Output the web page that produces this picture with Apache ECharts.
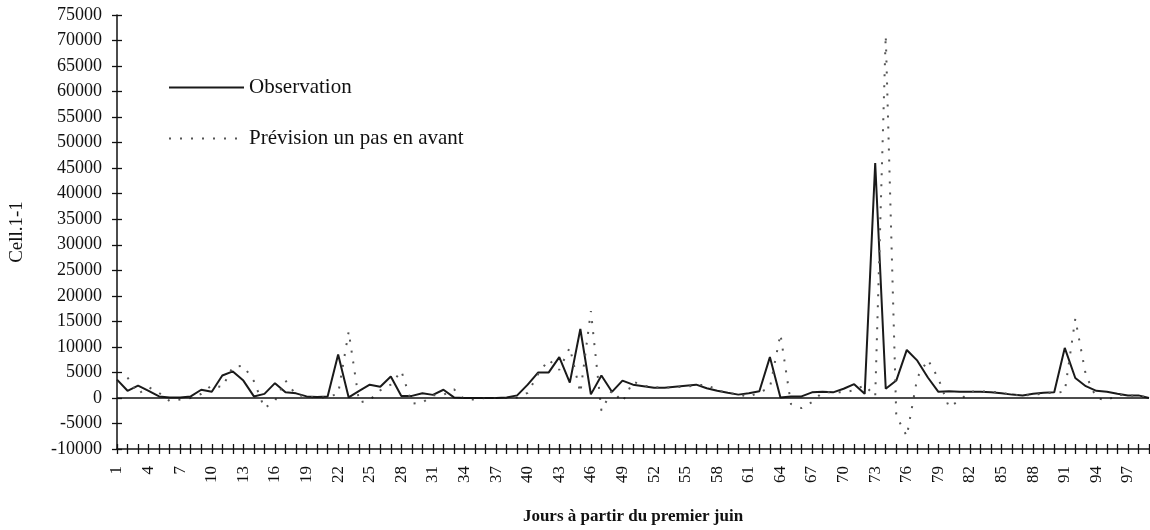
<!DOCTYPE html>
<html>
<head>
<meta charset="utf-8">
<script src="https://cdn.jsdelivr.net/npm/echarts@6/dist/echarts.min.js"></script>
<style>html,body{margin:0;padding:0;background:#fff}#c{width:1150px;height:530px}</style>
</head>
<body>
<div id="c"></div>
<script>
var days = [];
for (var d = 1; d <= 99; d++) days.push(String(d));

var observation = [
  3600, 1400, 2400, 1400, 300, 100, 100, 300, 1600, 1200,
  4400, 5200, 3400, 300, 800, 2900, 1100, 900, 300, 200,
  300, 8500, 100, 1400, 2600, 2200, 4200, 400, 400, 900,
  600, 1600, 100, 0, 0, 0, 0, 100, 500, 2600,
  5000, 5000, 8000, 3000, 13500, 700, 4400, 1200, 3400, 2600,
  2300, 2000, 2000, 2200, 2400, 2600, 1900, 1400, 1000, 650,
  900, 1300, 8000, 100, 300, 300, 1100, 1200, 1100, 1800,
  2700, 800, 46000, 1800, 3400, 9400, 7300, 4000, 1200, 1300,
  1200, 1200, 1200, 1100, 900, 650, 500, 800, 1000, 1100,
  9800, 3900, 2300, 1400, 1200, 800, 500, 500, 0
];

var prevision = [
  null, 4000, 800, 2100, 1000, -600, -300, 0, 800, 2500,
  2100, 6100, 6300, 3300, -2000, -600, 3400, 600, 300, 0,
  200, 800, 13000, -900, -400, 1500, 2600, 5300, -1100, -900,
  500, 600, 1700, -300, -300, 0, 0, 0, 100, 1000,
  4700, 7500, 5500, 9900, 1000, 17000, -2500, 1500, -800, 3200,
  2400, 2100, 2000, 2100, 2200, 2500, 2600, 1500, 1000, 700,
  200, 1100, 2000, 12500, -1200, -2000, -800, 1100, 1100, 1100,
  1500, 2500, 300, 71000, -3500, -7500, 4000, 7500, 3800, -1800,
  -500, 1200, 1300, 1200, 1000, 600, 500, 600, 900, 1000,
  1200, 15500, 4500, 0, -500, 600, 500, 400, 100
];

var FONT = 'Liberation Serif';
var chart = echarts.init(document.getElementById('c'));
chart.setOption({
  animation: false,
  backgroundColor: '#fff',
  grid: { left: 115, right: 1, top: 15, bottom: 72, containLabel: false },
  legend: {
    orient: 'vertical', left: 163, top: 72, itemWidth: 75, itemHeight: 14, itemGap: 30,
    itemStyle: { color: 'rgba(0,0,0,0)', borderWidth: 0, opacity: 0 },
    textStyle: { fontFamily: FONT, fontSize: 21, color: '#111' },
    data: ['Observation', 'Prévision un pas en avant']
  },
  xAxis: [{
    type: 'category', data: days, boundaryGap: false, position: 'bottom',
    name: 'Jours à partir du premier juin', nameLocation: 'middle', nameGap: 59,
    nameTextStyle: { fontFamily: FONT, fontSize: 17, fontWeight: 'bold', color: '#111' },
    axisLine: { onZero: false, lineStyle: { color: '#111', width: 1.5 } },
    axisTick: { show: true, interval: 0, length: 5, lineStyle: { color: '#111', width: 1.3 } },
    axisLabel: { interval: 2, rotate: 90, fontFamily: FONT, fontSize: 17, color: '#111', margin: 17 },
    splitLine: { show: false }
  }, {
    type: 'category', data: days, boundaryGap: false, position: 'bottom',
    axisLine: { show: false, onZero: false },
    axisTick: { show: true, inside: true, interval: 0, length: 5, lineStyle: { color: '#111', width: 1.3 } },
    axisLabel: { show: false }, splitLine: { show: false }
  }],
  yAxis: [{
    type: 'value', min: -10000, max: 75000, interval: 5000, position: 'left',
    name: 'Cell.1-1', nameLocation: 'middle', nameGap: 90, nameRotate: 90,
    nameTextStyle: { fontFamily: FONT, fontSize: 19, color: '#111' },
    axisLine: { show: true, lineStyle: { color: '#111', width: 1.5 } },
    axisTick: { show: true, length: 5, lineStyle: { color: '#111', width: 1.3 } },
    axisLabel: { fontFamily: FONT, fontSize: 18, color: '#111', margin: 15,
      formatter: function (v) { return String(v); } },
    splitLine: { show: false }
  }, {
    type: 'value', min: -10000, max: 75000, interval: 5000, position: 'left',
    axisLine: { show: false },
    axisTick: { show: true, inside: true, length: 5, lineStyle: { color: '#111', width: 1.3 } },
    axisLabel: { show: false }, splitLine: { show: false }
  }],
  series: [{
    name: 'Observation', type: 'line', data: observation, symbol: 'none',
    lineStyle: { color: '#1a1a1a', width: 2 }, itemStyle: { color: '#1a1a1a' },
    markLine: {
      silent: true, symbol: 'none', label: { show: false },
      lineStyle: { color: '#111', width: 1.6, type: 'solid' },
      data: [{ yAxis: 0 }]
    }
  }, {
    name: 'Prévision un pas en avant', type: 'line', data: prevision, symbol: 'none',
    connectNulls: false,
    lineStyle: { color: '#555', width: 2, type: [2, 9] }, itemStyle: { color: '#555' }
  }]
});
</script>
</body>
</html>
